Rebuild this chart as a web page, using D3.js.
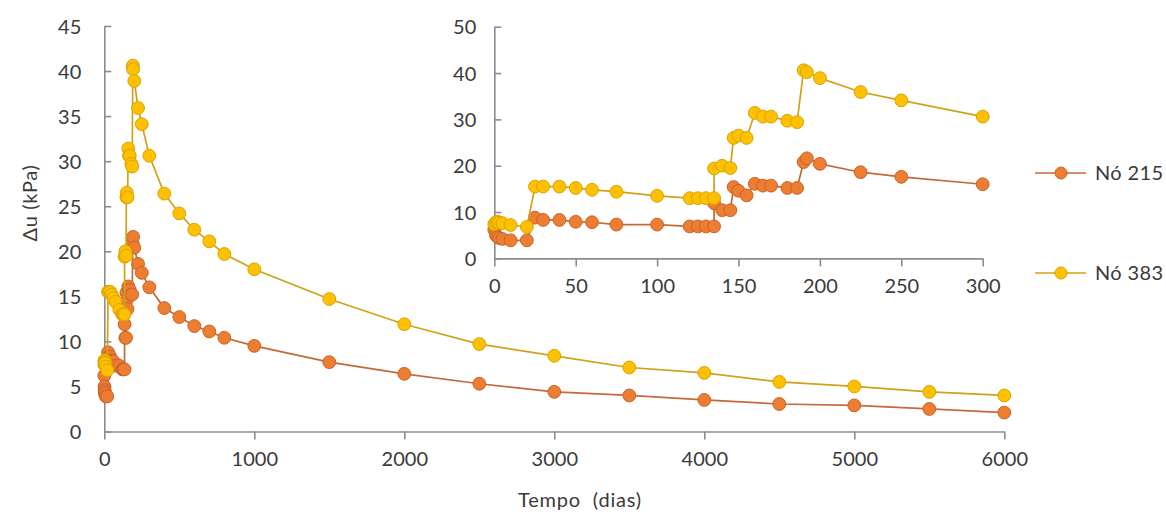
<!DOCTYPE html>
<html>
<head>
<meta charset="utf-8">
<script src="https://cdn.jsdelivr.net/npm/d3@7"></script>
<style>
  html, body { margin: 0; padding: 0; background: #fff; }
  svg text { font-family: Lato, "Open Sans", sans-serif; fill: #3a3a3a; }
</style>
</head>
<body>
<svg id="chart" width="1166" height="515"></svg>
<script>
// Time steps (days) shared by both nodes; repeated 135 marks the instantaneous load step
const tempo = [0, 1, 2, 3, 5, 10, 20, 25, 30, 40, 50, 60, 75, 100, 120, 125, 130, 135, 135,
  140, 145, 147, 150, 155, 160, 165, 170, 180, 186, 190, 192, 200, 225, 250, 300,
  400, 500, 600, 700, 800, 1000, 1500, 2000, 2500, 3000, 3500, 4000, 4500, 5000, 5500, 6000];

// Excess pore pressure Δu (kPa), node 215
const no215 = [6.2, 5.0, 4.6, 4.4, 4.2, 3.9, 3.9, 8.8, 8.3, 8.3, 7.9, 7.8, 7.3, 7.3, 6.9, 6.9, 6.9, 6.9, 11.9,
  10.4, 10.4, 15.4, 14.6, 13.6, 16.1, 15.7, 15.7, 15.2, 15.2, 20.8, 21.6, 20.4, 18.6, 17.6, 16.0,
  13.7, 12.7, 11.7, 11.1, 10.4, 9.5, 7.7, 6.4, 5.3, 4.4, 4.0, 3.5, 3.05, 2.9, 2.5, 2.1];

// Excess pore pressure Δu (kPa), node 383
const no383 = [7.4, 7.8, 7.9, 7.7, 7.6, 7.2, 6.8, 15.5, 15.5, 15.5, 15.2, 14.8, 14.4, 13.5, 13.0, 13.0, 13.0, 13.0, 19.4,
  20.0, 19.5, 26.0, 26.5, 26.0, 31.4, 30.6, 30.6, 29.7, 29.4, 40.6, 40.2, 38.9, 35.9, 34.1, 30.6,
  26.4, 24.2, 22.4, 21.1, 19.7, 18.0, 14.7, 11.9, 9.7, 8.4, 7.1, 6.5, 5.5, 5.0, 4.4, 4.0];

const seriesNames = ["Nó 215", "Nó 383"];

const mainXTicks = [0, 1000, 2000, 3000, 4000, 5000, 6000];
const mainYTicks = [0, 5, 10, 15, 20, 25, 30, 35, 40, 45];
const insetXTicks = [0, 50, 100, 150, 200, 250, 300];
const insetYTicks = [0, 10, 20, 30, 40, 50];

const series = [
  { name: seriesNames[0], values: no215, fill: "#ED7D31", stroke: "#C8642B", line: "#C46A3A" },
  { name: seriesNames[1], values: no383, fill: "#FFC000", stroke: "#D9A300", line: "#CFA21A" }
].map(s => ({ ...s, points: tempo.map((t, i) => ({ t, v: s.values[i] })) }));

const svg = d3.select("#chart");
const axisColor = "#8C8C8C";
const tickFont = 20;
const titleFont = 20;

function styleAxis(g) {
  g.select(".domain").attr("stroke", axisColor).attr("stroke-width", 1.6);
  g.selectAll(".tick line").attr("stroke", axisColor).attr("stroke-width", 1.6);
  g.selectAll(".tick text").style("font-size", tickFont + "px").attr("fill", "#3a3a3a");
}

function drawPanel(x, y, xTicks, yTicks, maxT, yPad) {
  const g = svg.append("g");
  const [y0] = y.range();
  const [x0] = x.range();

  g.append("g")
    .attr("transform", `translate(0,${y0})`)
    .call(d3.axisBottom(x).tickValues(xTicks).tickSizeOuter(0).tickSizeInner(8).tickPadding(12)
      .tickFormat(d3.format("d")))
    .call(styleAxis);

  g.append("g")
    .attr("transform", `translate(${x0},0)`)
    .call(d3.axisLeft(y).tickValues(yTicks).tickSizeOuter(0).tickSizeInner(-7).tickPadding(yPad)
      .tickFormat(d3.format("d")))
    .call(styleAxis)
    .call(a => a.selectAll(".tick text").attr("dy", "0.35em"));

  const line = d3.line().x(d => x(d.t)).y(d => y(d.v));

  series.forEach(s => {
    const pts = s.points.filter(d => d.t <= maxT);
    g.append("path")
      .datum(pts)
      .attr("fill", "none")
      .attr("stroke", s.line)
      .attr("stroke-width", 1.7)
      .attr("d", line);
    g.append("g").selectAll("circle")
      .data(pts)
      .join("circle")
      .attr("cx", d => x(d.t))
      .attr("cy", d => y(d.v))
      .attr("r", 6.4)
      .attr("fill", s.fill)
      .attr("stroke", s.stroke)
      .attr("stroke-width", 1);
  });
}

// Main panel: full simulation period
const xMain = d3.scaleLinear().domain([0, 6000]).range([104.3, 1004.3]);
const yMain = d3.scaleLinear().domain([0, 45]).range([431.5, 26]);
drawPanel(xMain, yMain, mainXTicks, mainYTicks, 6000, 23);

// Inset panel: first 300 days (construction stages)
const xInset = d3.scaleLinear().domain([0, 300]).range([494.3, 982.7]);
const yInset = d3.scaleLinear().domain([0, 50]).range([258.4, 26.7]);
drawPanel(xInset, yInset, insetXTicks, insetYTicks, 300, 18);

// Axis titles
svg.append("text")
  .attr("transform", "translate(37,203) rotate(-90)")
  .attr("text-anchor", "middle")
  .style("font-size", titleFont + "px")
  .style("letter-spacing", "0.6px")
  .text("Δu (kPa)");

svg.append("text")
  .attr("x", 580)
  .attr("y", 507)
  .attr("text-anchor", "middle")
  .style("font-size", titleFont + "px")
  .style("letter-spacing", "0.8px")
  .attr("xml:space", "preserve")
  .style("white-space", "pre")
  .text("Tempo  (dias)");

// Legend
const legend = svg.append("g");
const legendY = [173, 273];
series.forEach((s, i) => {
  const gy = legendY[i];
  legend.append("line")
    .attr("x1", 1035).attr("x2", 1086)
    .attr("y1", gy).attr("y2", gy)
    .attr("stroke", s.line).attr("stroke-width", 1.7);
  legend.append("circle")
    .attr("cx", 1061).attr("cy", gy).attr("r", 6)
    .attr("fill", s.fill).attr("stroke", s.stroke).attr("stroke-width", 1);
  legend.append("text")
    .attr("x", 1095).attr("y", gy).attr("dy", "0.35em")
    .style("font-size", "20px")
    .style("letter-spacing", "0.4px")
    .text(s.name);
});
</script>
</body>
</html>
